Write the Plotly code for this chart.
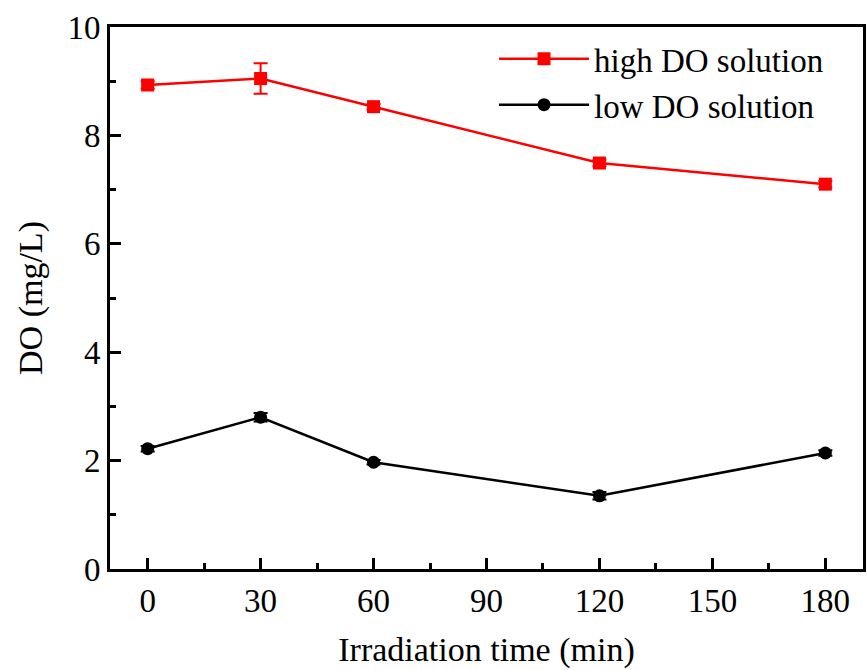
import plotly.graph_objects as go

time_min = [0, 30, 60, 120, 180]
high_do = [8.93, 9.05, 8.53, 7.49, 7.10]
high_err = [0.07, 0.28, 0.05, 0.06, 0.06]
low_do = [2.22, 2.80, 1.97, 1.35, 2.14]
low_err = [0.05, 0.08, 0.04, 0.07, 0.05]

FONT = "Liberation Serif"

fig = go.Figure()
fig.add_trace(go.Scatter(
    x=time_min, y=high_do, name="high DO solution", mode="lines+markers",
    line=dict(color="#ff0000", width=2.5),
    marker=dict(symbol="square", size=13, color="#ff0000"),
    error_y=dict(type="data", array=high_err, color="#ff0000", thickness=2, width=7),
))
fig.add_trace(go.Scatter(
    x=time_min, y=low_do, name="low DO solution", mode="lines+markers",
    line=dict(color="#000000", width=2.5),
    marker=dict(symbol="circle", size=13, color="#000000"),
    error_y=dict(type="data", array=low_err, color="#000000", thickness=2, width=7),
))

axis_common = dict(
    showline=True, linecolor="black", linewidth=3, mirror=True,
    ticks="inside", ticklen=11, tickwidth=2.5, tickcolor="black",
    showgrid=False, zeroline=False,
    tickfont=dict(family=FONT, size=33, color="black"),
    title_font=dict(family=FONT, size=34, color="black"),
)

fig.update_xaxes(
    range=[-10, 190], tickmode="array", tickvals=[0, 30, 60, 90, 120, 150, 180],
    minor=dict(ticks="inside", ticklen=6, tickwidth=2.5, tickcolor="black", dtick=15, tick0=15, showgrid=False),
    title_text="Irradiation time (min)", title_standoff=20, **axis_common,
)
fig.update_yaxes(
    range=[0, 10], tickmode="array", tickvals=[0, 2, 4, 6, 8, 10],
    minor=dict(ticks="inside", ticklen=6, tickwidth=2.5, tickcolor="black", dtick=1, tick0=1, showgrid=False),
    title_text="DO (mg/L)", title_standoff=15, **axis_common,
)

fig.update_layout(
    width=867, height=670,
    margin=dict(l=110, r=1, t=27, b=101),
    plot_bgcolor="white", paper_bgcolor="white",
    font=dict(family=FONT, color="black"),
    legend=dict(
        x=0.51, y=0.993, xanchor="left", yanchor="top",
        font=dict(family=FONT, size=33, color="black"),
        bgcolor="rgba(0,0,0,0)", itemwidth=90, tracegroupgap=0,
    ),
)

fig.write_html("out.html")
